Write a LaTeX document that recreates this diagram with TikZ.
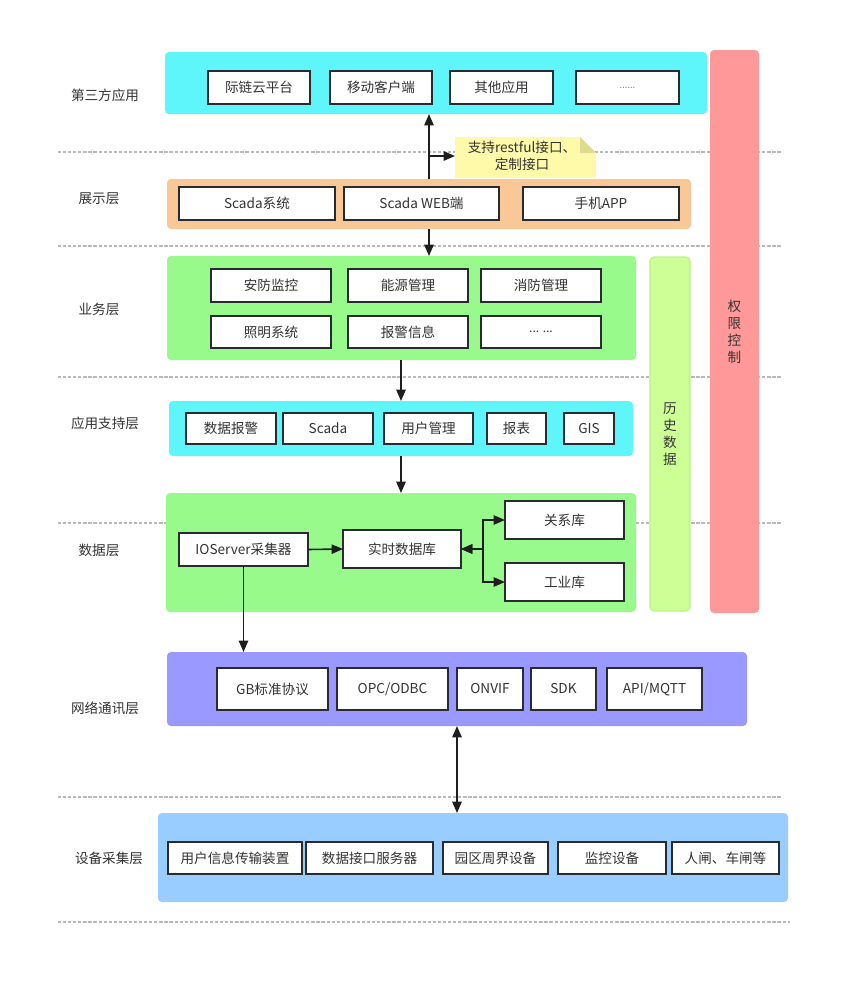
\documentclass[tikz,border=0pt]{standalone}
\usepackage{fontspec}
\setmainfont{Noto Sans CJK SC}
\usetikzlibrary{arrows.meta}
\definecolor{cyanL}{RGB}{94,246,250}
\definecolor{orangeL}{RGB}{250,200,150}
\definecolor{greenL}{RGB}{153,250,140}
\definecolor{limeL}{RGB}{206,255,150}
\definecolor{limeB}{RGB}{190,240,130}
\definecolor{redL}{RGB}{255,153,153}
\definecolor{purpleL}{RGB}{153,153,255}
\definecolor{blueL}{RGB}{153,204,255}
\definecolor{noteY}{RGB}{255,250,170}
\definecolor{noteF}{RGB}{220,220,140}
\definecolor{boxline}{RGB}{40,44,48}
\definecolor{txt}{RGB}{51,51,51}
\definecolor{arrc}{RGB}{30,30,30}
\definecolor{sepc}{RGB}{185,185,185}
\newcommand\fs{\fontsize{10.2}{12.75}\selectfont}
\newcommand\bx[7][ibox]{\node[#1,minimum width={(#5-#3)*0.75pt},minimum height={(#6-#4)*0.75pt}] (#2) at ({(#3+#5)/2},{(#4+#6)/2}) {#7};}
\tikzset{
  ibox/.style={draw=boxline, line width=1.4pt, fill=white, inner sep=0pt, outer sep=0pt, font=\fs, text=txt},
  lbox/.style={inner sep=0pt, outer sep=0pt, rounded corners=3pt},
  lab/.style={font=\fs, text=txt},
  arr/.style={draw=arrc, line width=1.2pt, -{Triangle[length=8.5pt,width=7pt]}},
  darr/.style={draw=arrc, line width=1.2pt, {Triangle[length=8.5pt,width=7pt]}-{Triangle[length=8.5pt,width=7pt]}},
  sepline/.style={draw=sepc, line width=0.9pt, dash pattern=on 2.4pt off 1.4pt},
}
\begin{document}
\begin{tikzpicture}[x=0.75pt,y=-0.75pt]
\useasboundingbox[fill=white] (0,0) rectangle (854,1000);
% separators
\coordinate (s1a) at (58,152); \coordinate (s1b) at (782,152);
\coordinate (s2a) at (58,246); \coordinate (s2b) at (782,246);
\coordinate (s3a) at (58,377); \coordinate (s3b) at (782,377);
\coordinate (s4a) at (58,523); \coordinate (s4b) at (782,523);
\coordinate (s5a) at (58,797); \coordinate (s5b) at (782,797);
\coordinate (s6a) at (58,922); \coordinate (s6b) at (790,922);
\foreach \i in {1,...,6} {\draw[sepline] (s\i a) -- (s\i b);}
% layer labels
\node[lab] (l1) at (105,95) {第三方应用};
\node[lab] (l2) at (99,199) {展示层};
\node[lab] (l3) at (99,309) {业务层};
\node[lab] (l4) at (105,423) {应用支持层};
\node[lab] (l5) at (99,550) {数据层};
\node[lab] (l6) at (105,708) {网络通讯层};
\node[lab] (l7) at (109,858) {设备采集层};
% layer boxes
\bx[lbox,fill=cyanL]{third}{165}{52}{707}{114}{}
\bx[lbox,fill=orangeL]{pres}{167}{179}{691}{229}{}
\bx[lbox,fill=greenL]{biz}{167}{256}{636}{360}{}
\bx[lbox,fill=cyanL]{sup}{169}{401}{633}{456}{}
\bx[lbox,fill=greenL]{data}{166}{493}{636}{612}{}
\bx[lbox,fill=purpleL]{net}{167}{652}{747}{726}{}
\bx[lbox,fill=blueL]{dev}{158}{813}{788}{902}{}
\bx[lbox,fill=limeL,draw=limeB,line width=0.8pt,font=\fs,text=txt,align=center]{hist}{650}{257}{690}{611}{历\\史\\数\\据}
\bx[lbox,fill=redL,font=\fs,text=txt,align=center]{perm}{710}{50}{759}{613}{权\\限\\控\\制}
% third-party
\bx{t1}{208}{71}{310}{104}{际链云平台}
\bx{t2}{330}{71}{432}{104}{移动客户端}
\bx{t3}{450}{71}{553}{104}{其他应用}
\bx{t4}{576}{71}{679}{104}{\textcolor{gray}{\scriptsize ......}}
% presentation
\bx{p1}{179}{187}{335}{220}{Scada系统}
\bx{p2}{344}{187}{499}{220}{Scada WEB端}
\bx{p3}{523}{187}{679}{220}{手机APP}
% business
\bx{b1}{211}{269}{331}{302}{安防监控}
\bx{b2}{348}{269}{468}{302}{能源管理}
\bx{b3}{481}{269}{601}{302}{消防管理}
\bx{b4}{211}{316}{331}{348}{照明系统}
\bx{b5}{348}{316}{468}{348}{报警信息}
\bx{b6}{481}{316}{601}{348}{\small ... ...}
% app support
\bx{a1}{186}{413}{276}{444}{数据报警}
\bx{a2}{283}{413}{373}{444}{Scada}
\bx{a3}{384}{413}{473}{444}{用户管理}
\bx{a4}{487}{413}{546}{444}{报表}
\bx{a5}{564}{413}{614}{444}{GIS}
% data
\bx{io}{179}{533}{308}{566}{IOServer采集器}
\bx{rt}{343}{530}{461}{568}{实时数据库}
\bx{rel}{505}{501}{624}{539}{关系库}
\bx{ind}{505}{563}{624}{601}{工业库}
% network
\bx{n1}{217}{668}{328}{710}{GB标准协议}
\bx{n2}{337}{668}{448}{710}{OPC/ODBC}
\bx{n3}{457}{668}{523}{710}{ONVIF}
\bx{n4}{531}{668}{596}{710}{SDK}
\bx{n5}{607}{668}{702}{710}{API/MQTT}
% device
\bx{d1}{168}{842}{302}{874}{用户信息传输装置}
\bx{d2}{306}{842}{433}{874}{数据接口服务器}
\bx{d3}{443}{842}{548}{874}{园区周界设备}
\bx{d4}{558}{842}{666}{874}{监控设备}
\bx{d5}{672}{842}{779}{874}{人闸、车闸等}
% note
\fill[noteY] (455,137) -- (580,137) -- (596,153) -- (596,178) -- (455,178) -- cycle;
\fill[noteF] (580,137) -- (596,153) -- (580,153) -- cycle;
\node[lab,align=center,inner sep=0pt] (note) at (522,156) {支持restful接口、\\定制接口};
% connectors
\coordinate (j1) at (429,156);
\coordinate (j2) at (401,0);
\coordinate (j3) at (483,549);
\coordinate (j4) at (457,0);
\draw[arr] (pres.north -| j1) -- (third.south -| j1);
\draw[arr] (j1) -- (j1 -| 455,0);
\draw[arr] (pres.south -| j1) -- (biz.north -| j1);
\draw[arr] (biz.south -| j2) -- (sup.north -| j2);
\draw[arr] (sup.south -| j2) -- (data.north -| j2);
\draw[arr] (io.east) -- (rt.west);
\draw[darr] (rt.east) -- (j3) |- (rel.west);
\draw[darr] (rt.east) -- (j3) |- (ind.west);
\draw[arr] (io.south) -- (net.north -| io.south);
\draw[darr] (net.south -| j4) -- (dev.north -| j4);
\end{tikzpicture}
\end{document}
